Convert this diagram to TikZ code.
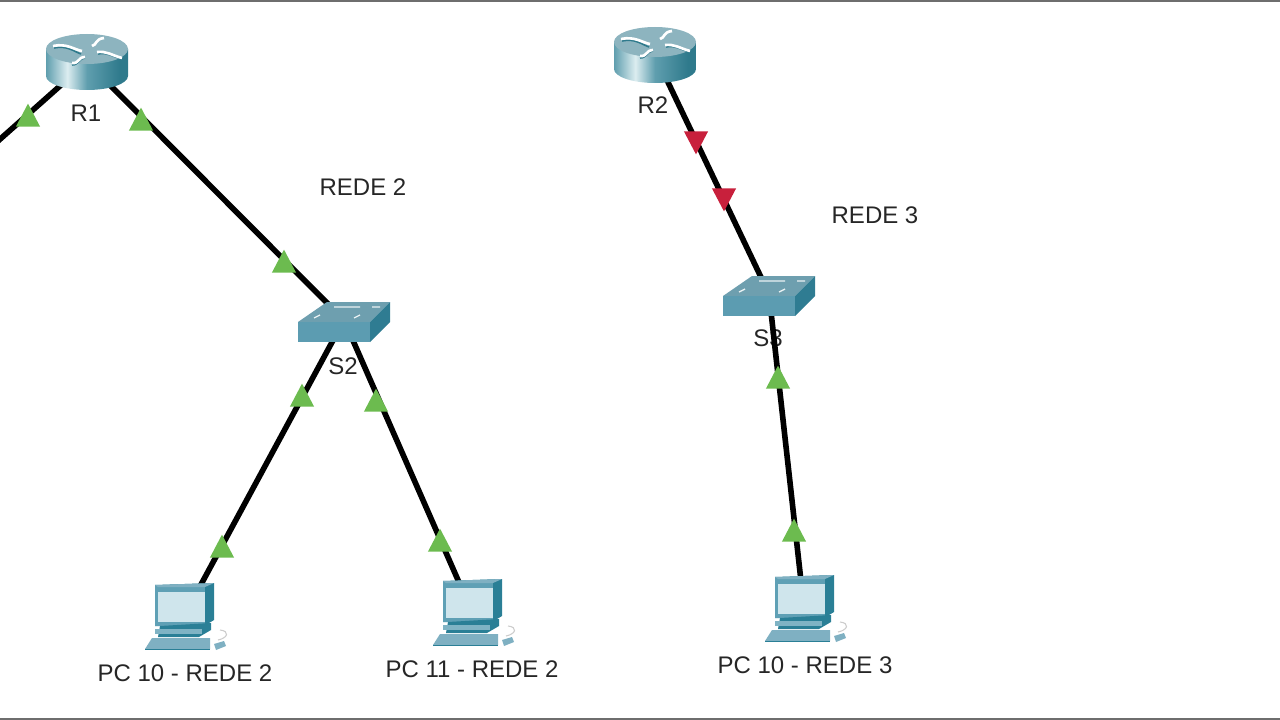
\documentclass[tikz,border=0pt]{standalone}
\usepackage{fontspec}
\usetikzlibrary{shapes.geometric}
\setmainfont{Liberation Sans}
\definecolor{linkgreen}{HTML}{6CBB4F}
\definecolor{linkred}{HTML}{C8203C}
\definecolor{rtrtop}{HTML}{8DB4BF}
\definecolor{rtrdark}{HTML}{2F7A8C}
\definecolor{rtrlight}{HTML}{DCEDF0}
\definecolor{rtrmid}{HTML}{5F9EAE}
\definecolor{swtop}{HTML}{6E9FAF}
\definecolor{swfront}{HTML}{5C9CB1}
\definecolor{swside}{HTML}{2F7C92}
\definecolor{pcscreen}{HTML}{CFE5EC}
\definecolor{pcbody}{HTML}{5FA0B5}
\definecolor{pcdark}{HTML}{2A7F96}
\definecolor{pclight}{HTML}{7FB0C2}
\definecolor{framegray}{HTML}{6E6E6E}
\pgfdeclarehorizontalshading{routerside}{100bp}{
  color(0bp)=(rtrmid); color(25bp)=(rtrmid); color(38bp)=(rtrlight);
  color(50bp)=(rtrmid); color(70bp)=(rtrdark); color(100bp)=(rtrdark)}
\tikzset{
  devnode/.style={inner sep=0pt, minimum size=2pt},
  devlabel/.style={font=\fontsize{18}{20}\selectfont, text=black!85, inner sep=1pt},
  link/.style={draw=black, line width=4.2pt},
  upgreen/.style={regular polygon, regular polygon sides=3, fill=linkgreen,
    inner sep=0pt, minimum size=21pt, yscale=1.1},
  downred/.style={regular polygon, regular polygon sides=3, shape border rotate=180,
    fill=linkred, inner sep=0pt, minimum size=21pt, yscale=1.1},
  routericon/.pic={
    \path[shading=routerside] (-41,-13) -- (-41,14) arc[start angle=180, end angle=0,
      x radius=41, y radius=14] -- (41,-13) -- cycle;
    \fill[rtrtop] (0,-13) ellipse[x radius=41, y radius=15];
    % arrows on the lid
    \draw[rtrdark, line width=1.2pt] (-33,-14) .. controls (-20,-17) and (-12,-10) .. (-6,-8);
    \draw[rtrdark, line width=1.2pt] (11,-8) .. controls (20,-10) and (24,-6) .. (35,-3);
    \draw[rtrdark, line width=1.2pt] (-15,3) .. controls (-8,3) and (-9,-3) .. (-2,-4);
    \draw[white, line width=2pt] (-34,-16) .. controls (-20,-19) and (-12,-12) .. (-5,-11);
    \draw[white, line width=2pt] (5,-16) .. controls (10,-17) and (8,-23) .. (17,-24);
    \draw[white, line width=2pt] (10,-10) .. controls (20,-11) and (24,-7) .. (35,-4);
    \draw[white, line width=2pt] (-15,1) .. controls (-8,2) and (-9,-5) .. (-2,-5);
  },
  switchicon/.pic={
    \fill[swtop] (-46,2) -- (-17,-18) -- (46,-18) -- (26,2) -- cycle;
    \fill[swfront] (-46,2) -- (26,2) -- (26,22) -- (-46,22) -- cycle;
    \fill[swside] (26,2) -- (46,-18) -- (46,2) -- (26,22) -- cycle;
    \draw[white!85!swtop, line width=1pt] (-10,-13) -- (16,-13) (28,-13) -- (36,-13)
      (-30,-2) -- (-24,-5) (10,-2) -- (16,-5);
  },
  pcicon/.pic={
    % monitor
    \fill[pcdark] (-29,-31) -- (30,-33) -- (30,4) -- (20,10) -- (-29,10) -- cycle;
    \fill[pcbody] (-29,-31) -- (21,-31) -- (21,10) -- (-29,10) -- cycle;
    \fill[pclight] (-29,-31) -- (30,-33) -- (21,-29) -- (-26,-29) -- cycle;
    \fill[pcscreen] (-26,-24) -- (21,-24) -- (21,6) -- (-26,6) -- cycle;
    % stand and base
    \fill[pcdark] (-24,10) -- (27,7) -- (27,14) -- (15,21) -- (-26,21) -- cycle;
    \fill[pcbody!80!white] (-29,13) -- (18,13) -- (18,18) -- (-29,18) -- cycle;
    % keyboard
    \fill[pclight] (-32,22) -- (26,22) -- (26,33) -- (-39,33) -- cycle;
    \fill[pcdark] (26,33) -- (-39,33) -- (-39,34) -- (26,34) -- cycle;
    % mouse
    \fill[pclight] (30,28) -- (40,25) -- (42,30) -- (32,34) -- cycle;
    \draw[black!20, line width=0.8pt] (34,24) .. controls (44,22) and (46,15) .. (36,14);
  }
}
\begin{document}
\begin{tikzpicture}[x=0.75pt, y=-0.75pt]
  \useasboundingbox (0,0) rectangle (1280,720);
  % frame strips
  \fill[framegray] (0,0) rectangle (1280,2);
  \fill[framegray] (0,718) rectangle (1280,720);
  % labels
  \node[devlabel] (lr1) at (86,113) {R1};
  \node[devlabel] (lr2) at (653,105) {R2};
  \node[devlabel] (ls2) at (343,366) {S2};
  \node[devlabel] (ls3) at (768,338) {S3};
  \node[devlabel] (net2) at (363,187) {REDE 2};
  \node[devlabel] (net3) at (875,215) {REDE 3};
  \node[devlabel] (lpc1) at (185,673) {PC 10 - REDE 2};
  \node[devlabel] (lpc2) at (472,669) {PC 11 - REDE 2};
  \node[devlabel] (lpc3) at (805,665) {PC 10 - REDE 3};
  % devices
  \node[devnode] (R1) at (87,62) {};
  \node[devnode] (R2) at (655,55) {};
  \node[devnode] (S2) at (344,320) {};
  \node[devnode] (S3) at (769,294) {};
  \node[devnode] (PC1) at (184,616) {};
  \node[devnode] (PC2) at (472,612) {};
  \node[devnode] (PC3) at (804,608) {};
  \coordinate (off) at (-20,157);
  % links
  \draw[link] (R1) -- (off);
  \draw[link] (R1) -- (S2);
  \draw[link] (S2) -- (PC1);
  \draw[link] (S2) -- (PC2);
  \draw[link] (R2) -- (S3);
  \draw[link] (S3) -- (PC3);
  % link lights
  \node[upgreen] (a1) at (28,119) {};
  \node[upgreen] (a2) at (141,123) {};
  \node[upgreen] (a3) at (284,265) {};
  \node[upgreen] (a4) at (302,399) {};
  \node[upgreen] (a5) at (376,404) {};
  \node[upgreen] (a6) at (222,550) {};
  \node[upgreen] (a7) at (440,544) {};
  \node[upgreen] (a8) at (778,381) {};
  \node[upgreen] (a9) at (794,534) {};
  \node[downred] (b1) at (696,139) {};
  \node[downred] (b2) at (724,196) {};
  % icons
  \pic at (R1) {routericon};
  \pic at (R2) {routericon};
  \pic at (S2) {switchicon};
  \pic at (S3) {switchicon};
  \pic at (PC1) {pcicon};
  \pic at (PC2) {pcicon};
  \pic at (PC3) {pcicon};
\end{tikzpicture}
\end{document}
